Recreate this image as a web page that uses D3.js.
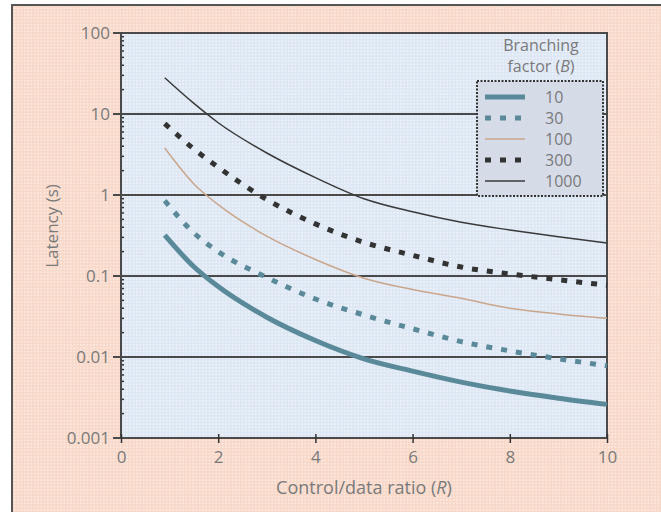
<!DOCTYPE html>
<html>
<head>
  <meta charset="utf-8">
  <title>Latency vs control/data ratio</title>
  <script src="https://cdn.jsdelivr.net/npm/d3@7"></script>
  <style>
    body { margin: 0; background: #fff; }
    text { font-family: "Open Sans", "Noto Sans", sans-serif; fill: #7a7a7a; }
  </style>
</head>
<body>
  <svg id="chart" width="661" height="512"></svg>
  <script>
    // control/data ratio (R)
    var ratio = [0.9, 1.5, 2, 3, 4, 5, 6, 7, 8, 9, 10];

    // latency (s) for each branching factor (B)
    var b10   = [0.32, 0.13, 0.074, 0.031, 0.016, 0.0095, 0.0067, 0.0049, 0.0038, 0.0031, 0.0026];
    var b30   = [0.85, 0.34, 0.2, 0.096, 0.052, 0.033, 0.0223, 0.0155, 0.0119, 0.0095, 0.0078];
    var b100  = [3.8, 1.37, 0.76, 0.31, 0.16, 0.094, 0.068, 0.053, 0.040, 0.034, 0.030];
    var b300  = [7.6, 3.7, 2.2, 0.88, 0.44, 0.26, 0.18, 0.129, 0.106, 0.09, 0.077];
    var b1000 = [28, 13.5, 7.8, 3.3, 1.64, 0.9, 0.62, 0.46, 0.37, 0.305, 0.255];

    var seriesNames = ["10", "30", "100", "300", "1000"];
    var seriesValues = [b10, b30, b100, b300, b1000];

    var yTicks = [100, 10, 1, 0.1, 0.01, 0.001];
    var yTickLabels = ["100", "10", "1", "0.1", "0.01", "0.001"];
    var xTicks = [0, 2, 4, 6, 8, 10];

    var styles = {
      "10":   { color: "#5a8a99", width: 5,   dash: null },
      "30":   { color: "#5a8a99", width: 5,   dash: "6,9" },
      "100":  { color: "#c9a68c", width: 1.5, dash: null },
      "300":  { color: "#333333", width: 5,   dash: "6,9" },
      "1000": { color: "#3a3a3a", width: 1.5, dash: null }
    };

    var svg = d3.select("#chart");
    var margin = { top: 33, left: 121, right: 54, bottom: 74 };
    var W = +svg.attr("width"), H = +svg.attr("height");

    var x = d3.scaleLinear().domain([0, 10]).range([margin.left, W - margin.right]);
    var y = d3.scaleLog().domain([0.001, 100]).range([H - margin.bottom, margin.top]);

    // dotted halftone-ish patterns
    var defs = svg.append("defs");
    var pk = defs.append("pattern").attr("id", "pinkdots")
      .attr("width", 3.3).attr("height", 3.3).attr("patternUnits", "userSpaceOnUse");
    pk.append("rect").attr("width", 3.3).attr("height", 3.3).attr("fill", "#f8d8c8");
    pk.append("rect").attr("x", 1).attr("y", 1).attr("width", 1.3).attr("height", 1.3)
      .attr("fill", "#fff").attr("opacity", 0.75);

    var bl = defs.append("pattern").attr("id", "bluedots")
      .attr("width", 3.3).attr("height", 3.3).attr("patternUnits", "userSpaceOnUse");
    bl.append("rect").attr("width", 3.3).attr("height", 3.3).attr("fill", "#dde7f4");
    bl.append("rect").attr("x", 1).attr("y", 1).attr("width", 1.3).attr("height", 1.3)
      .attr("fill", "#fff").attr("opacity", 0.8);

    // outer panel
    svg.append("rect").attr("x", 12).attr("y", 5)
      .attr("width", W - 12).attr("height", H - 5)
      .attr("fill", "url(#pinkdots)");
    svg.append("path")
      .attr("d", "M12," + H + "V5H" + W)
      .attr("fill", "none").attr("stroke", "#555").attr("stroke-width", 2);

    // plot background
    svg.append("rect")
      .attr("x", x(0)).attr("y", y(100))
      .attr("width", x(10) - x(0)).attr("height", y(0.001) - y(100))
      .attr("fill", "url(#bluedots)");

    // decade grid lines (extend left past the axis as ticks)
    svg.append("g").selectAll("line")
      .data(yTicks)
      .enter().append("line")
      .attr("x1", x(0) - 8).attr("x2", x(10))
      .attr("y1", function(d) { return y(d); })
      .attr("y2", function(d) { return y(d); })
      .attr("stroke", "#4a4a4a").attr("stroke-width", 2);

    // minor log ticks along the left axis
    var minor = [];
    [0.001, 0.01, 0.1, 1, 10].forEach(function(dec) {
      for (var k = 2; k <= 9; k++) minor.push(dec * k);
    });
    svg.append("g").selectAll("line")
      .data(minor)
      .enter().append("line")
      .attr("x1", x(0)).attr("x2", x(0) + 3)
      .attr("y1", function(d) { return y(d); })
      .attr("y2", function(d) { return y(d); })
      .attr("stroke", "#333").attr("stroke-width", 1.5);

    // frame
    svg.append("rect")
      .attr("x", x(0)).attr("y", y(100))
      .attr("width", x(10) - x(0)).attr("height", y(0.001) - y(100))
      .attr("fill", "none").attr("stroke", "#4a4a4a").attr("stroke-width", 2);

    // y axis labels
    var yAxis = svg.append("g")
      .attr("transform", "translate(" + x(0) + ",0)")
      .call(d3.axisLeft(y).tickValues(yTicks).tickSize(0).tickPadding(11)
        .tickFormat(function(d, i) { return yTickLabels[i]; }));
    yAxis.select(".domain").remove();
    yAxis.selectAll("text").style("font-size", "17px").attr("fill", "#7a7a7a");

    // x axis
    var xAxis = svg.append("g")
      .attr("transform", "translate(0," + y(0.001) + ")")
      .call(d3.axisBottom(x).tickValues(xTicks).tickSize(5).tickPadding(8));
    xAxis.select(".domain").remove();
    xAxis.selectAll("line").attr("stroke", "#333").attr("stroke-width", 1.5)
      .attr("y1", -4);
    xAxis.selectAll("text").style("font-size", "17px").attr("fill", "#7a7a7a");

    // axis titles
    svg.append("text")
      .attr("x", (x(0) + x(10)) / 2).attr("y", 494)
      .attr("text-anchor", "middle").style("font-size", "18px")
      .html('Control/data ratio (<tspan font-style="italic">R</tspan>)');

    svg.append("text")
      .attr("transform", "translate(58,226) rotate(-90)")
      .attr("text-anchor", "middle").style("font-size", "17px")
      .text("Latency (s)");

    // curves
    var line = d3.line()
      .x(function(d) { return x(d[0]); })
      .y(function(d) { return y(d[1]); })
      .curve(d3.curveMonotoneX);

    var drawOrder = [2, 4, 1, 3, 0];
    drawOrder.forEach(function(i) {
      var name = seriesNames[i];
      var s = styles[name];
      var pts = ratio.map(function(r, j) { return [r, seriesValues[i][j]]; });
      svg.append("path")
        .datum(pts)
        .attr("d", line)
        .attr("fill", "none")
        .attr("stroke", s.color)
        .attr("stroke-width", s.width)
        .attr("stroke-dasharray", s.dash);
    });

    // legend
    var lg = svg.append("g");
    lg.append("text").attr("x", 541).attr("y", 51)
      .attr("text-anchor", "middle").style("font-size", "16px").text("Branching");
    lg.append("text").attr("x", 541).attr("y", 72)
      .attr("text-anchor", "middle").style("font-size", "16px")
      .html('factor (<tspan font-style="italic">B</tspan>)');

    lg.append("rect")
      .attr("x", 477).attr("y", 81).attr("width", 126).attr("height", 115)
      .attr("fill", "#d6dbe8").attr("stroke", "#333").attr("stroke-width", 2)
      .attr("stroke-dasharray", "2,1.5");

    var rowY = d3.scalePoint().domain(seriesNames).range([97, 181]);
    var rows = lg.selectAll("g.row")
      .data(seriesNames)
      .enter().append("g").attr("class", "row")
      .attr("transform", function(d) { return "translate(0," + rowY(d) + ")"; });

    rows.append("line")
      .attr("x1", 485).attr("x2", 525)
      .attr("stroke", function(d) { return styles[d].color; })
      .attr("stroke-width", function(d) { return styles[d].width; })
      .attr("stroke-dasharray", function(d) { return styles[d].dash; });

    rows.append("text")
      .attr("x", 545).attr("dy", "0.35em")
      .style("font-size", "16px")
      .text(function(d) { return d; });
  </script>
</body>
</html>
